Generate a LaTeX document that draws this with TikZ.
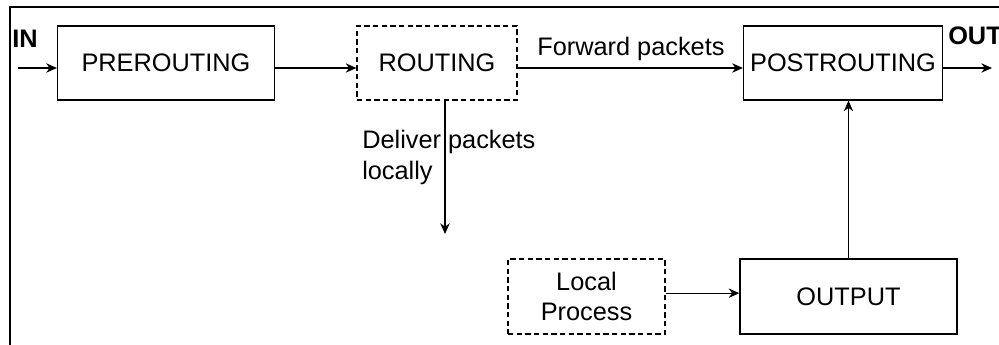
\documentclass[tikz,border=0pt]{standalone}
\usepackage{fontspec}
\setmainfont{Liberation Sans}
\usetikzlibrary{arrows.meta}
\begin{document}
\begin{tikzpicture}[>={Stealth[length=8pt,width=7pt,inset=2.5pt]}, x=0.75pt, y=-0.75pt,
    font=\fontsize{19}{23}\selectfont,
    chain/.style={draw, line width=0.9pt, inner sep=0pt, minimum height=55.5pt},
    hook/.style={chain, dash pattern=on 4pt off 2.5pt},
    flow/.style={->, line width=0.9pt}]
\useasboundingbox (0,0) rectangle (999,345);
\draw[line width=1.8pt](10,345)--(10,7)--(999,7);

\node[chain, minimum width=162.75pt] (pre) at (166,63) {PREROUTING};
\node[hook, minimum width=120pt] (rout) at (437,63) {ROUTING};
\node[chain, minimum width=149.25pt] (post) at (843,63) {POSTROUTING};
\node[hook, minimum width=117.75pt, minimum height=56.25pt, align=center] (local) at (586.5,296.5) {Local\\Process};
\node[chain, minimum width=162.75pt, minimum height=56.25pt] (output) at (848.5,296.5) {OUTPUT};

\coordinate (in) at (18,68);
\coordinate (out) at (992,68);
\coordinate (deliver) at (445,234);

\node[anchor=base west, inner sep=0pt, font=\fontsize{19}{23}\selectfont\bfseries] (inlabel) at (12,48) {IN};
\node[anchor=base west, inner sep=0pt, font=\fontsize{19}{23}\selectfont\bfseries] (outlabel) at (948,45) {OUT};
\node[anchor=base west, inner sep=0pt] (fwd) at (537,56) {Forward packets};
\node[anchor=north west, inner sep=0pt, align=left] (dlv) at (362,130) {Deliver packets\\locally};

\draw[flow](in)--(in -| pre.west);
\draw[flow]([yshift=-3.75pt]pre.east)--([yshift=-3.75pt]rout.west);
\draw[flow]([yshift=-3.75pt]rout.east)--([yshift=-3.75pt]post.west);
\draw[flow]([yshift=-3.75pt]post.east)--(out);
\draw[flow]([xshift=6pt]rout.south)--(deliver);
\draw[flow]([yshift=2.5pt]local.east)--([yshift=2.5pt]output.west);
\draw[flow](output.north)--(output.north |- post.south);
\end{tikzpicture}
\end{document}
